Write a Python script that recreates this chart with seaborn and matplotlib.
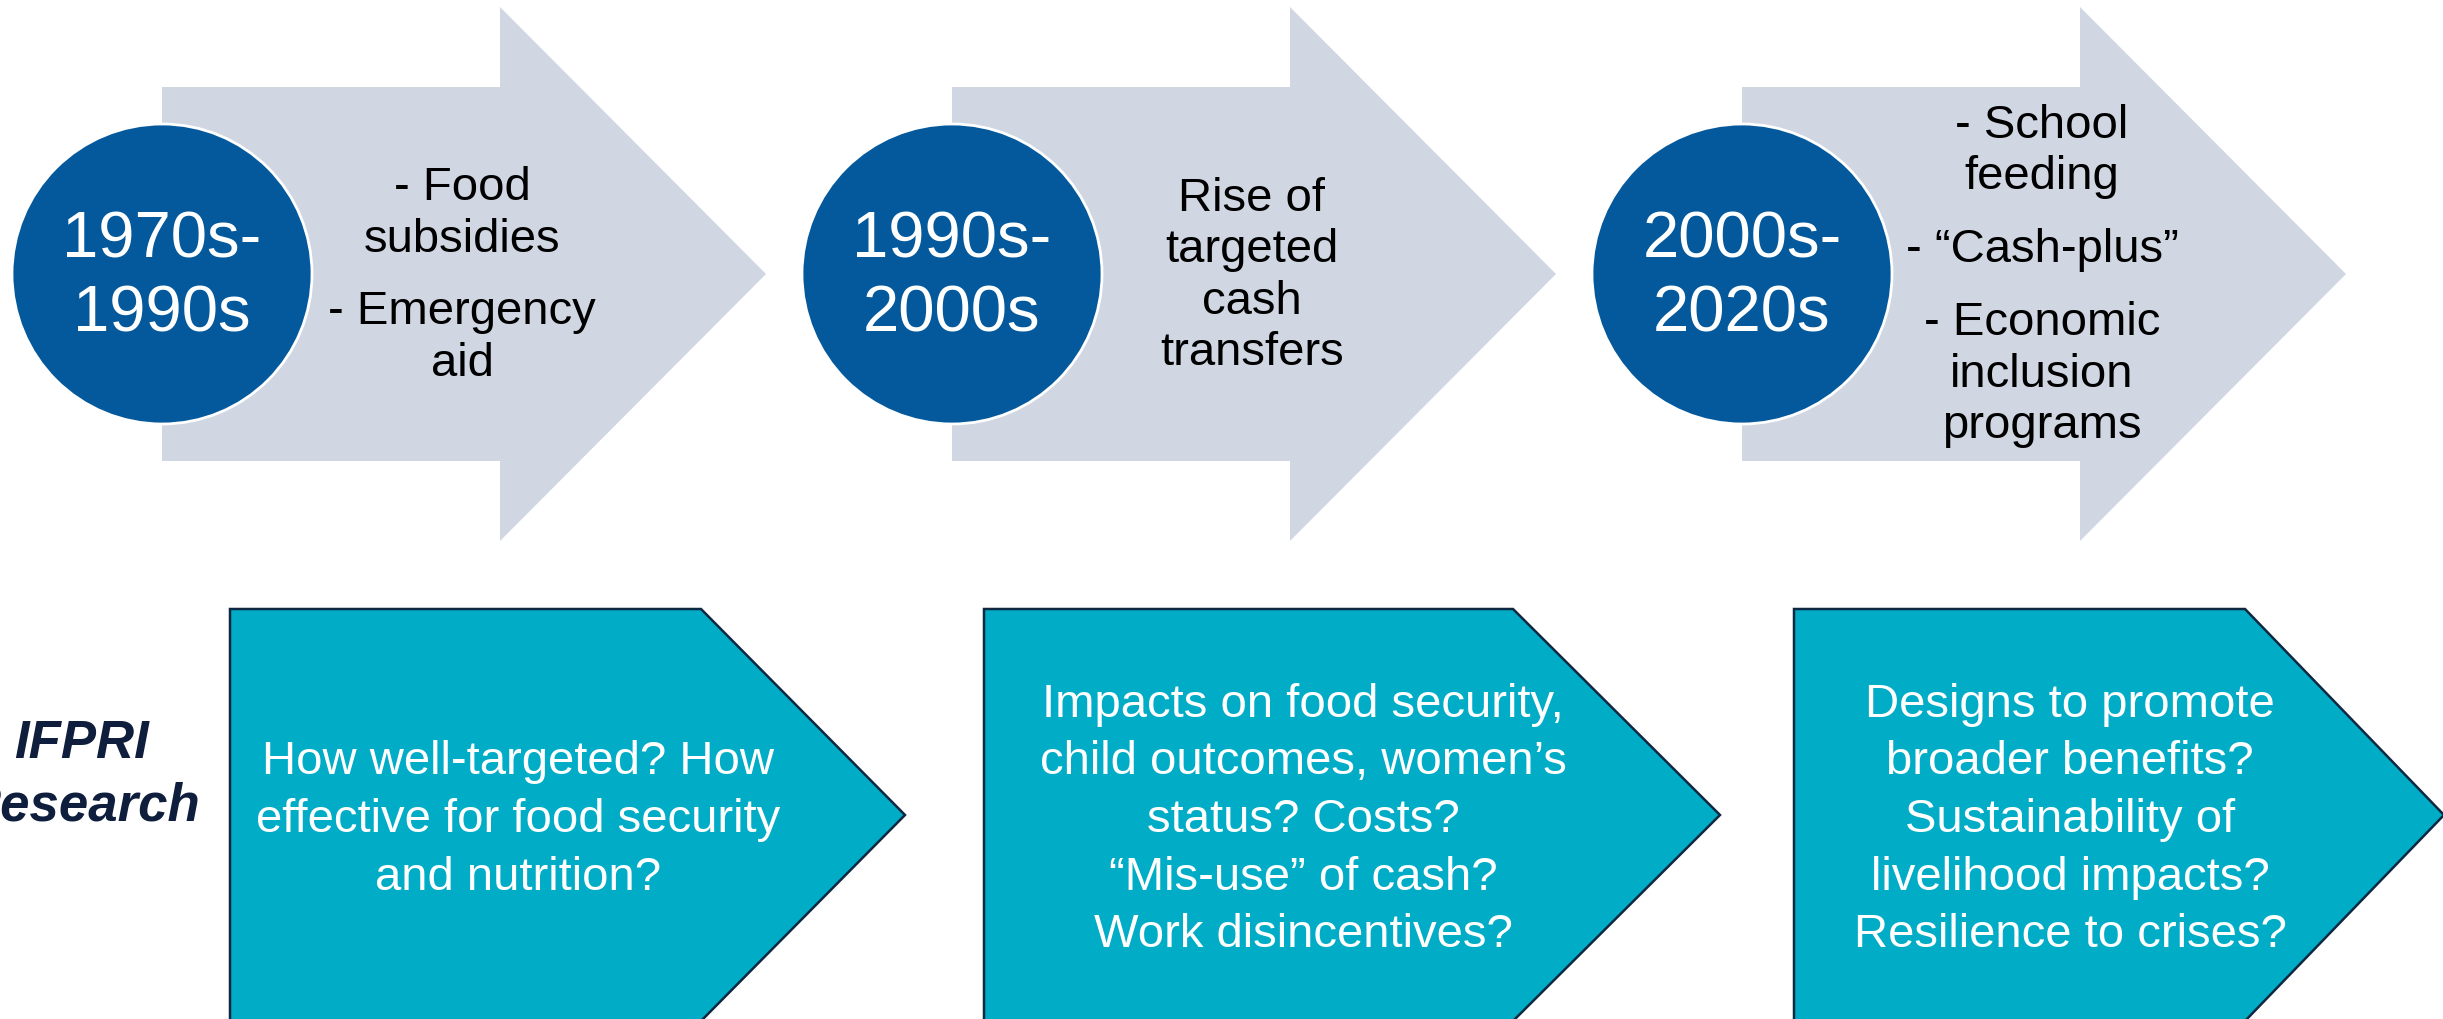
import matplotlib
matplotlib.use("Agg")
import matplotlib.pyplot as plt
from matplotlib.patches import Polygon, Circle
import seaborn as sns

# --- content of the diagram ---
periods = [["1970s-", "1990s"], ["1990s-", "2000s"], ["2000s-", "2020s"]]
programs = [
    [["- Food", "subsidies"], ["- Emergency", "aid"]],
    [["Rise of", "targeted", "cash", "transfers"]],
    [["- School", "feeding"], ["- \u201cCash-plus\u201d"], ["- Economic", "inclusion", "programs"]],
]
questions = [
    ["How well-targeted? How", "effective for food security", "and nutrition?"],
    ["Impacts on food security,", "child outcomes, women\u2019s", "status? Costs?",
     "\u201cMis-use\u201d of cash?", "Work disincentives?"],
    ["Designs to promote", "broader benefits?", "Sustainability of",
     "livelihood impacts?", "Resilience to crises?"],
]
row_label = ["IFPRI", "Research"]

# colours
ARROW = "#D0D6E2"
CIRCLE = "#03599C"
BOX = "#00ACC6"
EDGE = "#0E2841"
NAVY = "#0F1E3D"

# layout (pixel units, y downwards)
W, H = 2443, 1019
arrow_left = [162, 952, 1742]
box_left = [230, 984, 1794]
box_head = [701, 1513, 2245]
box_tip = [905, 1720, 2444]

sns.set_theme(style="white")
plt.rcParams["font.family"] = ["Liberation Sans", "DejaVu Sans"]

fig = plt.figure(figsize=(W / 100, H / 100), dpi=100)
ax = fig.add_axes([0, 0, 1, 1])
ax.set_xlim(0, W)
ax.set_ylim(H, 0)
ax.axis("off")


def text_block(x, yc, paragraphs, step, gap, cap, **kw):
    # lines stacked by baseline, block centred on yc
    items, cur = [], None
    for para in paragraphs:
        for li, line in enumerate(para):
            if cur is None:
                cur = 0
            elif li == 0:
                cur += gap
            else:
                cur += step
            items.append((cur, line))
    first = yc - (cur + cap) / 2 + cap
    for off, line in items:
        ax.text(x, first + off, line, ha="center", va="baseline", **kw)


# top row: grey arrows with period circles
cy = 274
for x0, period, prog in zip(arrow_left, periods, programs):
    pts = [(x0, cy - 187), (x0 + 338, cy - 187), (x0 + 338, cy - 267), (x0 + 604, cy),
           (x0 + 338, cy + 267), (x0 + 338, cy + 187), (x0, cy + 187)]
    ax.add_patch(Polygon(pts, closed=True, fc=ARROW, ec="none", zorder=1))
    ax.add_patch(Circle((x0, cy), 150, fc=CIRCLE, ec="white", lw=2, zorder=2))
    text_block(x0, 271, [period], 73, 73, 47, fontsize=47, color="white", zorder=3)
    text_block(x0 + 300, 271, prog, 51.5, 73, 34, fontsize=34, color="black", zorder=3)

# bottom row: research question pentagons
ty, top, bot = 815, 609, 1021
for l, hd, tp, q in zip(box_left, box_head, box_tip, questions):
    pts = [(l, top), (hd, top), (tp, ty), (hd, bot), (l, bot)]
    ax.add_patch(Polygon(pts, closed=True, fc=BOX, ec=EDGE, lw=1.8, zorder=1))
    text_block((l + tp) / 2 - 49, ty, [q], 57.5, 57.5, 34, fontsize=34, color="white", zorder=3)

# row label, partly cut by the left edge as in the original slide
text_block(81, 770, [row_label], 63, 63, 38, fontsize=38, color=NAVY,
           fontweight="bold", fontstyle="italic")

fig.savefig("out.png", dpi=100)
